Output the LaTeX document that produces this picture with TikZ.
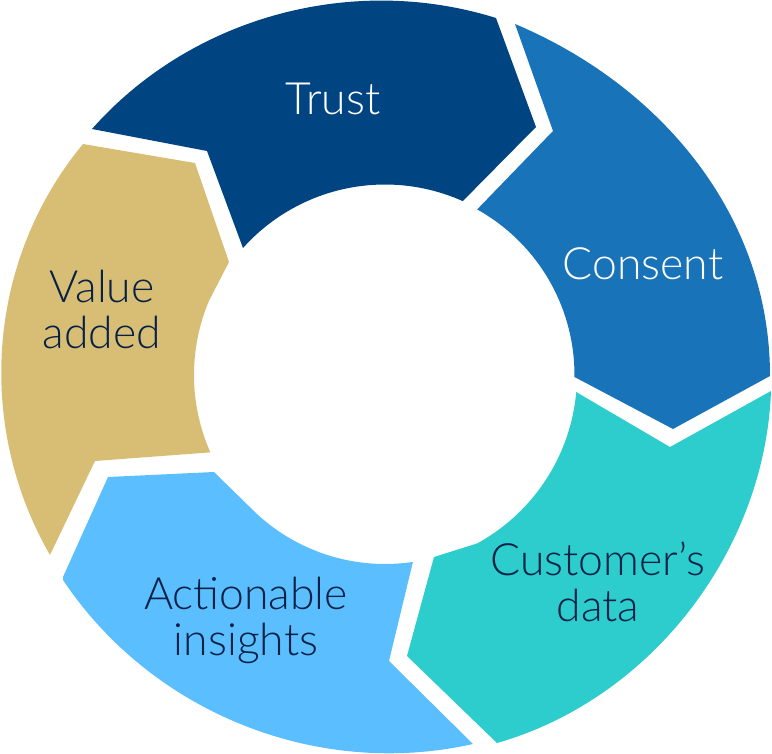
\documentclass[tikz,border=0pt]{standalone}
\usepackage{fontspec}
\setmainfont{Lato Light}
\definecolor{cTrust}{HTML}{004481}
\definecolor{cConsent}{HTML}{1973B8}
\definecolor{cData}{HTML}{2DCCCD}
\definecolor{cAct}{HTML}{5BBEFF}
\definecolor{cValue}{HTML}{D8BE75}
\definecolor{cNavy}{HTML}{072146}
\tikzset{
  seglabel/.style={align=center,inner sep=0pt,font=\fontsize{44.5}{46}\selectfont},
  inarc/.style={samples=48}
}
\newcommand{\ix}[1]{385+#1*cos(\x)}
\newcommand{\iy}[1]{375+#1*sin(\x)}
\begin{document}
\begin{tikzpicture}[x=1pt,y=-1pt]
\useasboundingbox (0,0) rectangle (772,754);
% Trust
\fill[cTrust] (207,151) -- (92,129) .. controls (191,17) and (352,-27) .. (496,18)
  -- (536,127) -- plot[inarc,domain=-65.9:-138.2] ({\ix{190.5}},{\iy{190.5}}) -- cycle;
% Consent
\fill[cConsent] (553,131) -- plot[inarc,domain=-60.9:0.6] ({\ix{189.5}},{\iy{189.5}})
  -- (673,429) -- (770,376) .. controls (770,216) and (662,86) .. (515,24) -- cycle;
% Customer's data
\fill[cData] (670,447) -- (771,391) .. controls (765,551) and (651,699) .. (497,743)
  -- (407,656) -- (434,557) -- plot[inarc,domain=61.3:5.1] ({\ix{192}},{\iy{192}}) -- cycle;
% Actionable insights
\fill[cAct] (108,477) -- (214,472) -- plot[inarc,domain=132.8:81.5] ({\ix{189}},{\iy{189}})
  -- (389,661) -- (473,744) .. controls (317,779) and (152,713) .. (63,580) -- (63,577) -- cycle;
% Value added
\fill[cValue] (83,144) -- (195,163) -- (229,262) -- plot[inarc,domain=202.8:156.1] ({\ix{191}},{\iy{191}})
  -- (95,461) -- (50,555) .. controls (-25,425) and (-13,260) .. (83,144) -- cycle;
% Labels
\node[seglabel,text=white] (trust) at (333,99) {Trust};
\node[seglabel,text=white] (consent) at (643,264) {Consent};
\node[seglabel,text=cNavy] (data) at (598,582) {Customer’s\\data};
\node[seglabel,text=cNavy] (insights) at (246,620) {Actionable\\insights};
\node[seglabel,text=cNavy] (value) at (102,309) {Value\\added};
\end{tikzpicture}
\end{document}
